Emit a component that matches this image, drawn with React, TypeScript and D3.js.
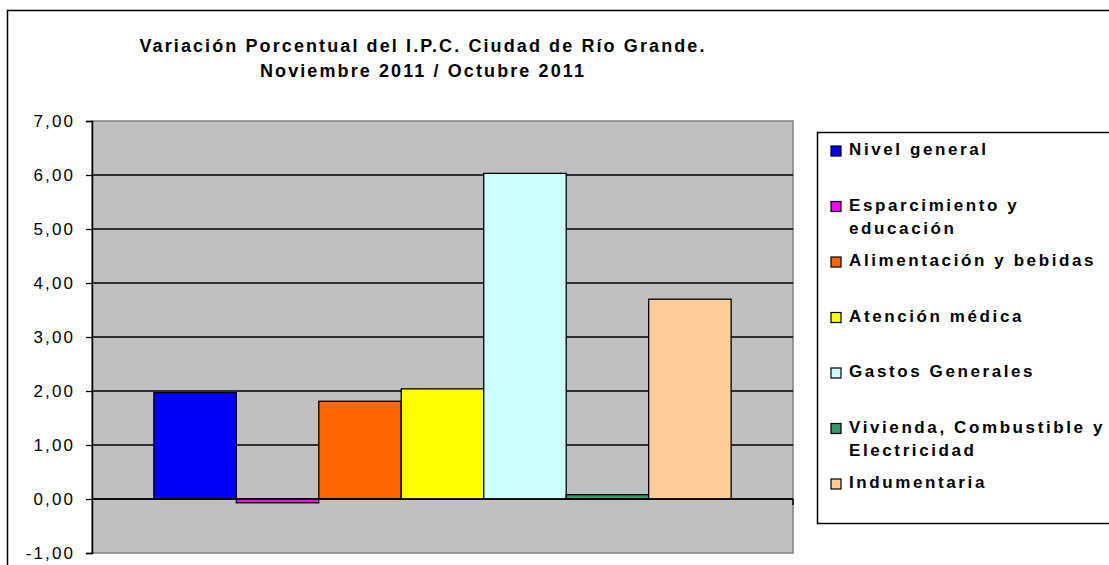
import { useRef, useEffect } from 'react';
import * as d3 from 'd3';

// Series (one category only, each series is a bar)
const seriesNames = [
    'Nivel general',
    'Esparcimiento y\neducación',
    'Alimentación y bebidas',
    'Atención médica',
    'Gastos Generales',
    'Vivienda, Combustible y\nElectricidad',
    'Indumentaria',
];
const seriesValues = [1.97, -0.07, 1.81, 2.04, 6.03, 0.08, 3.7];
const seriesColors = ['#0000FF', '#FF00FF', '#FF6600', '#FFFF00', '#CCFFFF', '#339966', '#FFCC99'];
const yTicks = [-1, 0, 1, 2, 3, 4, 5, 6, 7];
const titleLines = ['Variación Porcentual del I.P.C. Ciudad de Río Grande.', 'Noviembre 2011 / Octubre 2011'];

const W = 1109;
const H = 565;

export default function App() {
    const svgRef = useRef<SVGSVGElement>(null);

    useEffect(() => {
        if (!svgRef.current) return;
        const root = d3.select(svgRef.current);
        root.selectAll('*').remove();

        const plot = { left: 92, right: 793, top: 121, bottom: 553 };
        const font = '"Liberation Sans", Arial, sans-serif';

        // Outer chart frame (runs off the right / bottom of the picture)
        root.append('rect')
            .attr('x', 7.5).attr('y', 10.5)
            .attr('width', W + 20).attr('height', H + 20)
            .attr('fill', '#fff').attr('stroke', '#000').attr('stroke-width', 1.5);

        // Title
        root.append('g')
            .selectAll('text')
            .data(titleLines)
            .enter()
            .append('text')
            .attr('x', 423)
            .attr('y', (_d, i) => 52 + i * 25)
            .attr('text-anchor', 'middle')
            .attr('font-family', font)
            .attr('font-weight', 'bold')
            .attr('font-size', 18)
            .attr('letter-spacing', 2.1)
            .text(d => d);

        // Scales
        const x0 = d3.scaleBand<string>()
            .domain(['IPC'])
            .range([plot.left, plot.right])
            .paddingInner(0)
            .paddingOuter(0.75 / 7);

        const x1 = d3.scaleBand<string>()
            .domain(seriesNames)
            .range([0, x0.bandwidth()]);

        const y = d3.scaleLinear()
            .domain([-1, 7])
            .range([plot.bottom, plot.top]);

        const locale = d3.formatLocale({ decimal: ',', thousands: '.', grouping: [3], currency: ['$', ''], minus: '-' });
        const fmt = locale.format('.2f');

        // Plot area
        root.append('rect')
            .attr('x', plot.left).attr('y', plot.top)
            .attr('width', plot.right - plot.left).attr('height', plot.bottom - plot.top)
            .attr('fill', '#C0C0C0').attr('stroke', '#808080').attr('stroke-width', 1.5);

        // Grid lines
        root.append('g')
            .selectAll('line')
            .data(yTicks.filter(t => t > -1 && t < 7))
            .enter()
            .append('line')
            .attr('x1', plot.left).attr('x2', plot.right)
            .attr('y1', d => y(d)).attr('y2', d => y(d))
            .attr('stroke', '#000').attr('stroke-width', 1.3);

        // Bars
        const bx = x0('IPC') || 0;
        root.append('g')
            .selectAll('rect')
            .data(seriesValues)
            .enter()
            .append('rect')
            .attr('x', (_d, i) => bx + (x1(seriesNames[i]) || 0))
            .attr('width', x1.bandwidth())
            .attr('y', d => y(Math.max(0, d)))
            .attr('height', d => Math.abs(y(d) - y(0)))
            .attr('fill', (_d, i) => seriesColors[i])
            .attr('stroke', '#000').attr('stroke-width', 1.3);

        // Category axis (at zero) with end tick on the right
        root.append('line')
            .attr('x1', plot.left).attr('x2', plot.right)
            .attr('y1', y(0)).attr('y2', y(0))
            .attr('stroke', '#000').attr('stroke-width', 1.3);
        root.append('line')
            .attr('x1', plot.right).attr('x2', plot.right)
            .attr('y1', y(0)).attr('y2', y(0) + 6)
            .attr('stroke', '#000').attr('stroke-width', 1.5);

        // Value axis
        const yAxis = root.append('g')
            .attr('transform', `translate(${plot.left},0)`)
            .call(d3.axisLeft(y).tickValues(yTicks).tickSize(6).tickPadding(11).tickFormat(d => fmt(d as number)));
        yAxis.select('.domain').attr('stroke', '#000').attr('stroke-width', 1.5);
        yAxis.selectAll('.tick line').attr('stroke', '#000').attr('stroke-width', 1.3);
        yAxis.selectAll('.tick text')
            .attr('fill', '#000')
            .attr('font-family', font)
            .attr('font-size', 17)
            .attr('letter-spacing', 2.1);

        // Legend
        const legend = root.append('g');
        legend.append('rect')
            .attr('x', 817.5).attr('y', 132.5)
            .attr('width', 320).attr('height', 391)
            .attr('fill', '#fff').attr('stroke', '#000').attr('stroke-width', 1.5);

        const rowY = d3.scalePoint<string>()
            .domain(seriesNames)
            .range([151, 484]);

        const items = legend.selectAll('g.item')
            .data(seriesNames)
            .enter()
            .append('g')
            .attr('class', 'item')
            .attr('transform', d => `translate(0,${rowY(d)})`);

        items.append('rect')
            .attr('x', 831).attr('y', -5)
            .attr('width', 10).attr('height', 10)
            .attr('fill', (_d, i) => seriesColors[i])
            .attr('stroke', '#000').attr('stroke-width', 1.2);

        items.append('text')
            .attr('font-family', font)
            .attr('font-weight', 'bold')
            .attr('font-size', 17)
            .attr('letter-spacing', 2.6)
            .selectAll('tspan')
            .data(d => d.split('\n'))
            .enter()
            .append('tspan')
            .attr('x', 849)
            .attr('y', (_d, i) => 4 + i * 23)
            .text(d => d);
    }, []);

    return (
        <svg
            ref={svgRef}
            width={W}
            height={H}
            style={{ position: 'absolute', left: 0, top: 0, display: 'block', background: '#fff' }}
        />
    );
}
